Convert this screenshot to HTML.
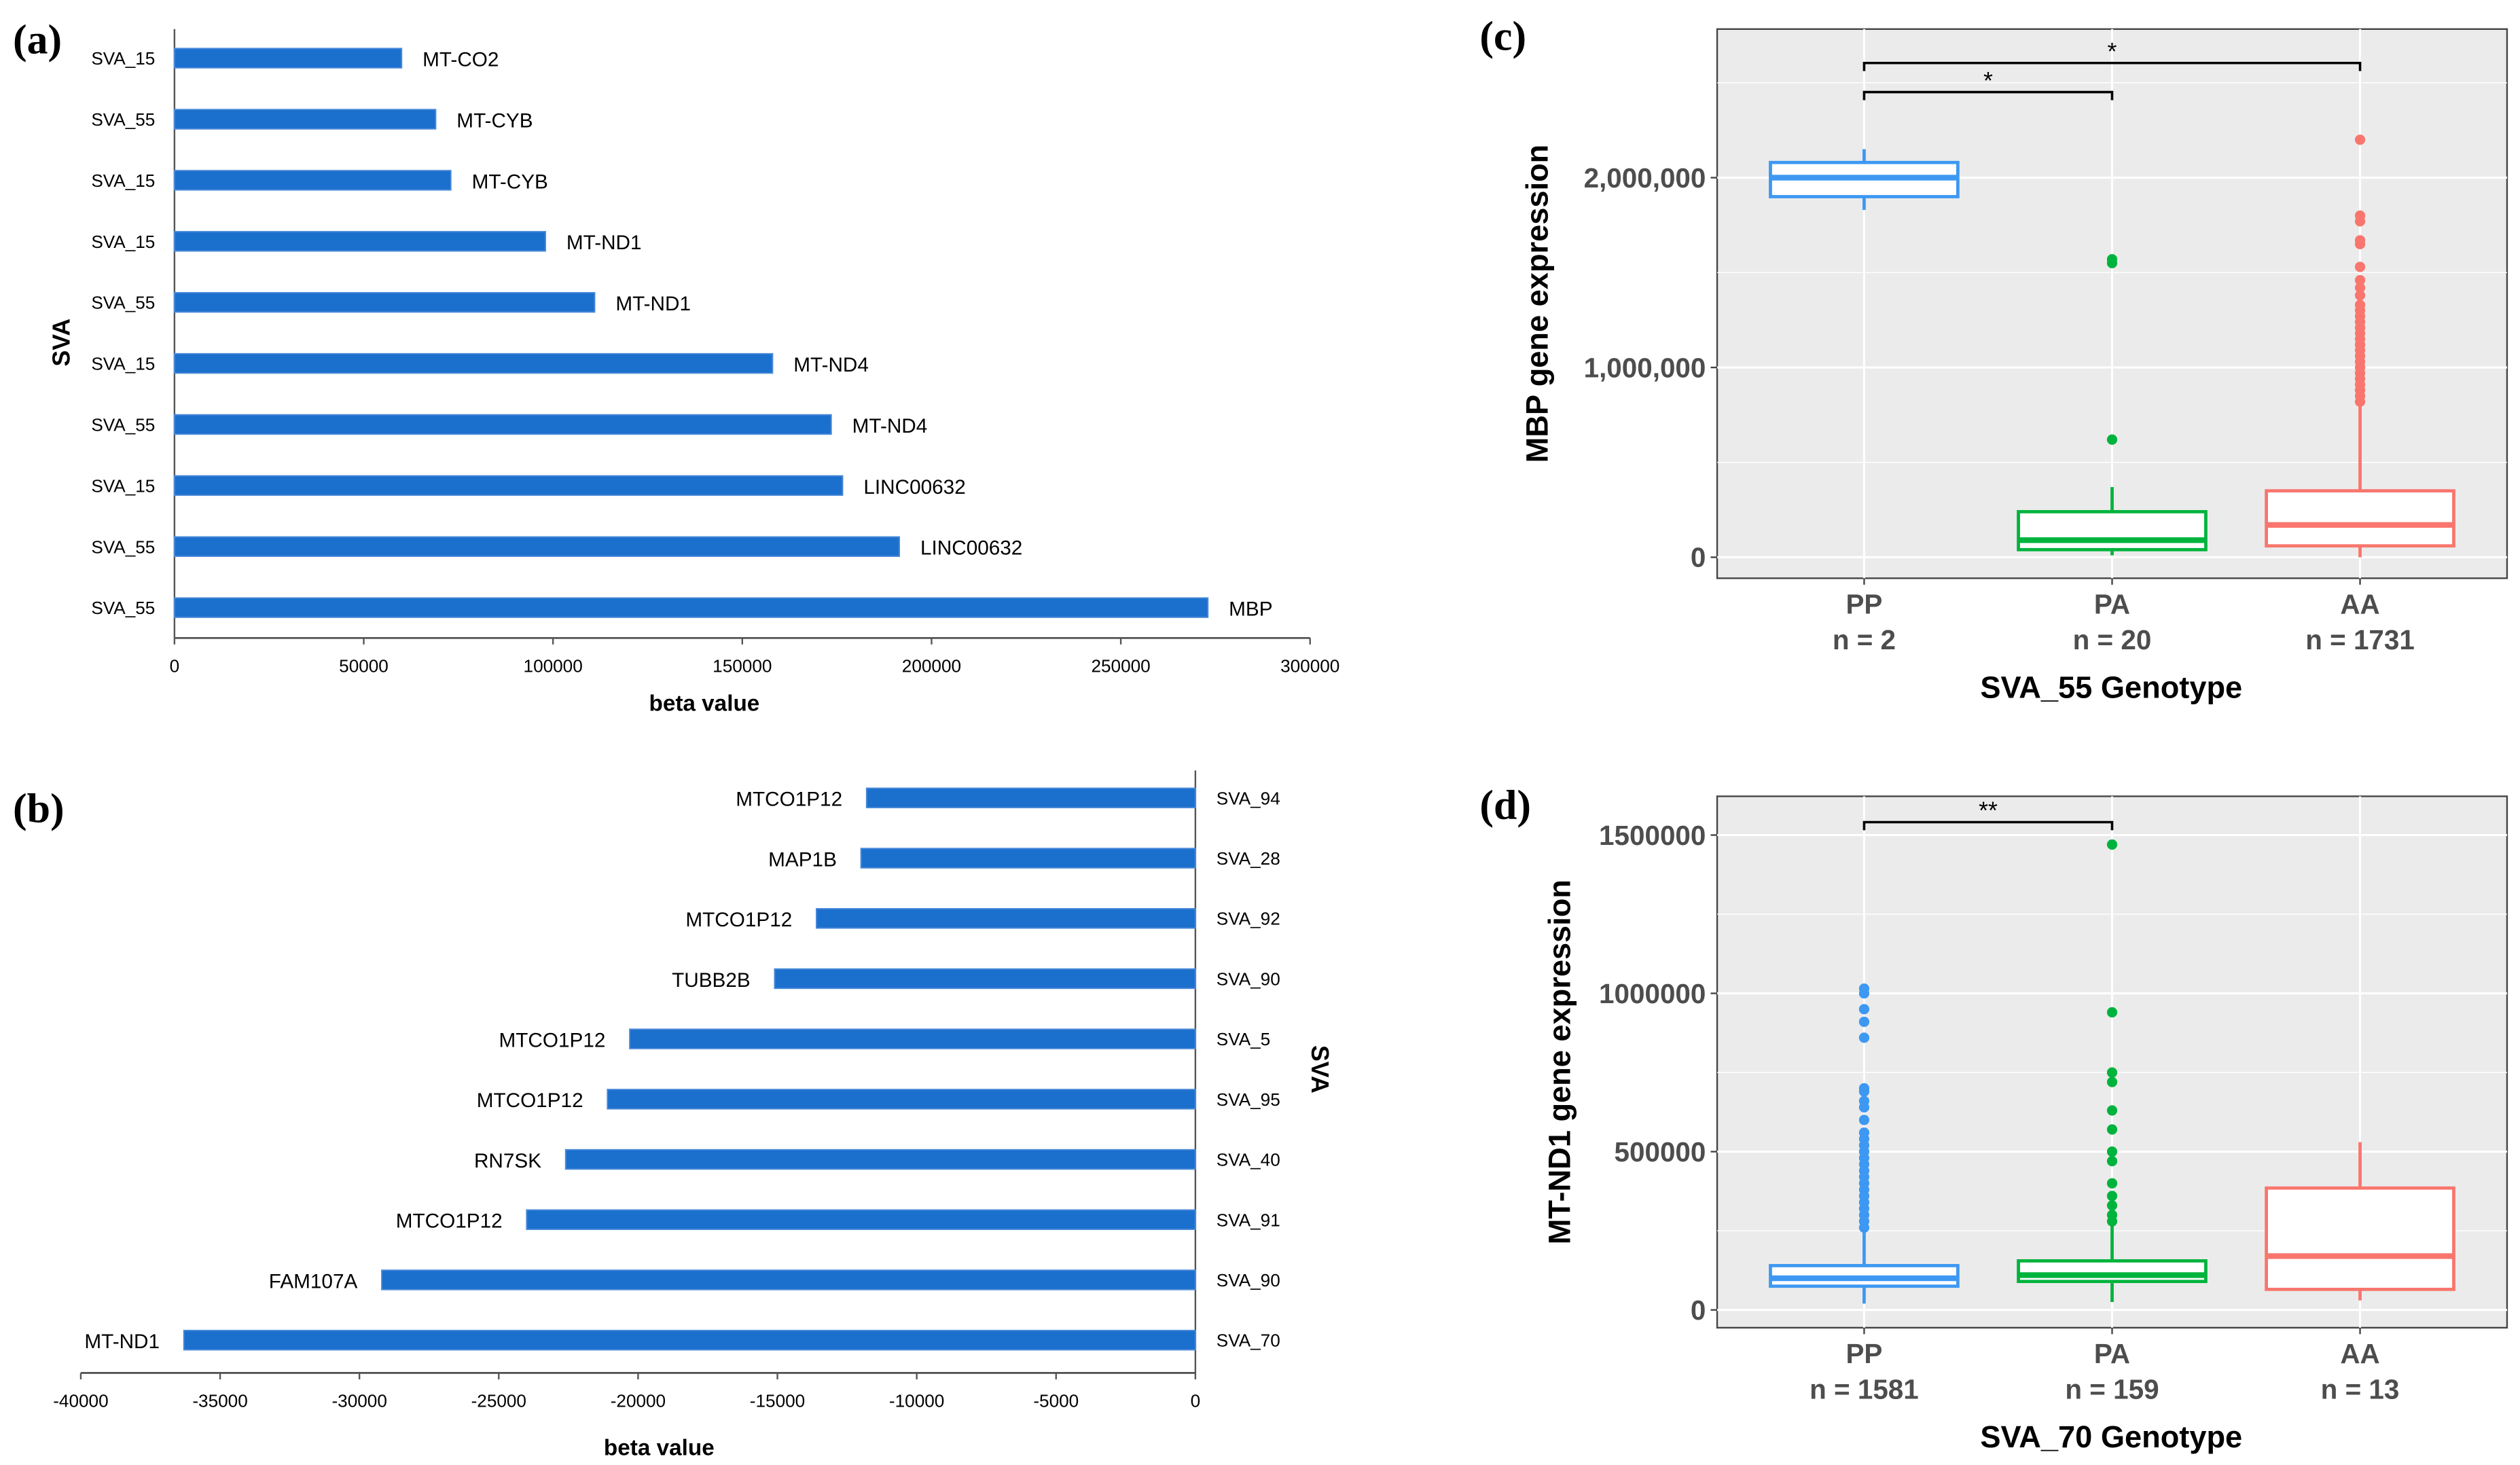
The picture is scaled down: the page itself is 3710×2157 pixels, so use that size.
<!DOCTYPE html>
<html><head><meta charset="utf-8"><style>
html,body{margin:0;padding:0;background:#fff;}
svg{display:block;}
text{font-family:"Liberation Sans",sans-serif;}
</style></head><body>
<svg id="fig" width="3710" height="2157" viewBox="0 0 1560 907" xmlns="http://www.w3.org/2000/svg"></svg>
<script>
// ---- Panel a data ----
const aSva = ["SVA_15","SVA_55","SVA_15","SVA_15","SVA_55","SVA_15","SVA_55","SVA_15","SVA_55","SVA_55"];
const aGenes = ["MT-CO2","MT-CYB","MT-CYB","MT-ND1","MT-ND1","MT-ND4","MT-ND4","LINC00632","LINC00632","MBP"];
const aValues = [60000,69000,73000,98000,111000,158000,173500,176500,191500,273000];
const aTicks = [0,50000,100000,150000,200000,250000,300000];
// ---- Panel b data ----
const bSva = ["SVA_94","SVA_28","SVA_92","SVA_90","SVA_5","SVA_95","SVA_40","SVA_91","SVA_90","SVA_70"];
const bGenes = ["MTCO1P12","MAP1B","MTCO1P12","TUBB2B","MTCO1P12","MTCO1P12","RN7SK","MTCO1P12","FAM107A","MT-ND1"];
const bValues = [-11800,-12000,-13600,-15100,-20300,-21100,-22600,-24000,-29200,-36300];
const bTicks = [-40000,-35000,-30000,-25000,-20000,-15000,-10000,-5000,0];
// ---- Panel c data ----
const cGroups = ["PP","PA","AA"];
const cN = ["n = 2","n = 20","n = 1731"];
const cStats = [ // [lowWhisker,q1,median,q3,highWhisker]
 [1830000,1900000,2000000,2080000,2150000],
 [10000,40000,90000,240000,370000],
 [0,60000,170000,350000,800000]];
const cOutPP = [];
const cOutPA = [620000,1550000,1570000];
const cOutAA = [820000,850000,880000,910000,940000,970000,1000000,1030000,1060000,1090000,1120000,1150000,1180000,1210000,1240000,1270000,1300000,1330000,1380000,1420000,1460000,1530000,1650000,1670000,1770000,1800000,2200000];
const cTicks = [0,1000000,2000000];
const cTickLabels = ["0","1,000,000","2,000,000"];
// ---- Panel d data ----
const dGroups = ["PP","PA","AA"];
const dN = ["n = 1581","n = 159","n = 13"];
const dStats = [
 [20000,75000,100000,140000,250000],
 [25000,90000,110000,155000,270000],
 [30000,65000,170000,385000,530000]];
const dOutPP = [260000,280000,300000,320000,340000,360000,380000,400000,420000,440000,460000,480000,500000,520000,540000,560000,600000,640000,660000,690000,700000,860000,910000,950000,1000000,1015000];
const dOutPA = [280000,300000,330000,360000,400000,470000,500000,570000,630000,720000,750000,940000,1470000];
const dOutAA = [];
const dTicks = [0,500000,1000000,1500000];
const dTickLabels = ["0","500000","1000000","1500000"];

const NS="http://www.w3.org/2000/svg";
const svg=document.getElementById('fig');
function mk(tag,attrs,parent,txt){const e=document.createElementNS(NS,tag);for(const k in attrs)e.setAttribute(k,attrs[k]);if(txt!==undefined)e.textContent=txt;(parent||svg).appendChild(e);return e;}

// panel letters
[["(a)",8,33],["(b)",8,509],["(c)",916,31],["(d)",916,507]].forEach(p=>{
 const t=mk('text',{x:p[1],y:p[2],'font-size':26,'font-weight':'bold',style:'font-family:"Liberation Serif",serif'},svg,p[0]);
 
 
});

// ===== Panel a =====
const ga=mk('g',{});


const axA=v=>108+v/300000*703;
const rowA=i=>36+i*37.8;
mk('line',{x1:108,y1:18,x2:108,y2:395,stroke:'#555','stroke-width':1},ga);
mk('line',{x1:108,y1:395,x2:811,y2:395,stroke:'#555','stroke-width':1.2},ga);
aTicks.forEach(t=>{mk('line',{x1:axA(t),y1:395,x2:axA(t),y2:399,stroke:'#555'},ga);
 const l=mk('text',{x:axA(t),y:416,'font-size':11,'text-anchor':'middle'},ga,String(t));
 });
aValues.forEach((v,i)=>{const y=rowA(i);
 const r=mk('rect',{x:108,y:y-6,width:axA(v)-108,height:12,fill:'#1b6fcd',stroke:'#4a8ad8','stroke-width':0.8},ga);
 
 const g=mk('text',{x:axA(v)+13,y:y+5,'font-size':12.5},ga,aGenes[i]);
 
 const s=mk('text',{x:96,y:y+4,'font-size':11,'text-anchor':'end'},ga,aSva[i]);
 });
const aT=mk('text',{x:436,y:440,'font-size':14,'font-weight':'bold','text-anchor':'middle'},ga,'beta value');

const aY=mk('text',{x:0,y:0,'font-size':15,'font-weight':'bold','text-anchor':'middle',transform:'translate(43,212) rotate(-90)'},ga,'SVA');


// ===== Panel b =====
const gb=mk('g',{});


const axB=v=>740+v/40000*690;
const rowB=i=>494+i*37.3;
mk('line',{x1:740,y1:477,x2:740,y2:850,stroke:'#555'},gb);
mk('line',{x1:50,y1:850,x2:740,y2:850,stroke:'#555','stroke-width':1.2},gb);
bTicks.forEach(t=>{mk('line',{x1:axB(t),y1:850,x2:axB(t),y2:854,stroke:'#555'},gb);
 const l=mk('text',{x:axB(t),y:871,'font-size':11,'text-anchor':'middle'},gb,String(t));
 });
bValues.forEach((v,i)=>{const y=rowB(i);
 const r=mk('rect',{x:axB(v),y:y-6,width:740-axB(v),height:12,fill:'#1b6fcd',stroke:'#4a8ad8','stroke-width':0.8},gb);
 
 const g=mk('text',{x:axB(v)-15,y:y+5,'font-size':12.5,'text-anchor':'end'},gb,bGenes[i]);
 
 const s=mk('text',{x:753,y:y+4,'font-size':11},gb,bSva[i]);
 });
const bT=mk('text',{x:408,y:901,'font-size':14,'font-weight':'bold','text-anchor':'middle'},gb,'beta value');

const bY=mk('text',{x:0,y:0,'font-size':15,'font-weight':'bold','text-anchor':'middle',transform:'translate(812,662) rotate(90)'},gb,'SVA');


// ===== Boxplots =====
const cols=['#3d98f2','#00b33c','#f8766d'];
function boxPanel(name,top,bot,y0,pxPer,ticks,tickLabels,groups,ns,stats,outs,brackets,title,titleX,xTitle,minor){
 const g=mk('g',{});
 
 
 const L=1063,R=1552;
 const Y=v=>y0-v*pxPer;
 const X=i=>1154+i*153.5;
 mk('rect',{x:L,y:top,width:R-L,height:bot-top,fill:'#ebebeb',stroke:'#444','stroke-width':1},g);
 minor.forEach(m=>{if(Y(m)>top&&Y(m)<bot)mk('line',{x1:L,x2:R,y1:Y(m),y2:Y(m),stroke:'#fff','stroke-width':0.6},g);});
 ticks.forEach((t,k)=>{mk('line',{x1:L,x2:R,y1:Y(t),y2:Y(t),stroke:'#fff','stroke-width':1.3},g);
  mk('line',{x1:L-4,x2:L,y1:Y(t),y2:Y(t),stroke:'#444'},g);
  const l=mk('text',{x:L-7,y:Y(t)+6,'font-size':17,'font-weight':'bold',fill:'#4d4d4d','text-anchor':'end'},g,tickLabels[k]);
  });
 groups.forEach((gr,i)=>{mk('line',{x1:X(i),x2:X(i),y1:top,y2:bot,stroke:'#fff','stroke-width':1.3},g);
  mk('line',{x1:X(i),x2:X(i),y1:bot,y2:bot+4,stroke:'#444'},g);
  const a=mk('text',{x:X(i),y:bot+22,'font-size':17,'font-weight':'bold',fill:'#4d4d4d','text-anchor':'middle'},g,gr);
  
  const b=mk('text',{x:X(i),y:bot+44,'font-size':17,'font-weight':'bold',fill:'#4d4d4d','text-anchor':'middle'},g,ns[i]);
  
  const s=stats[i],c=cols[i],hw=58;
  mk('line',{x1:X(i),x2:X(i),y1:Y(s[0]),y2:Y(s[4]),stroke:c,'stroke-width':2},g);
  const bx=mk('rect',{x:X(i)-hw,y:Y(s[3]),width:2*hw,height:Y(s[1])-Y(s[3]),fill:'#fff',stroke:c,'stroke-width':2},g);
  
  mk('line',{x1:X(i)-hw,x2:X(i)+hw,y1:Y(s[2]),y2:Y(s[2]),stroke:c,'stroke-width':3.5},g);
  outs[i].forEach(o=>{const p=mk('circle',{cx:X(i),cy:Y(o),r:3.2,fill:c},g);
   });
 });
 brackets.forEach(b=>{const x1=X(b[0]),x2=X(b[1]),y=b[2];
  mk('path',{d:`M${x1},${y+5}V${y}H${x2}V${y+5}`,fill:'none',stroke:'#000','stroke-width':1.5},g);
  const s=mk('text',{x:(x1+x2)/2,y:y-2,'font-size':15,'text-anchor':'middle'},g,b[3]);
  });
 const yt=mk('text',{x:0,y:0,'font-size':19,'font-weight':'bold','text-anchor':'middle',transform:`translate(${titleX},${(top+bot)/2}) rotate(-90)`},g,title);
 
 const xt=mk('text',{x:1307,y:bot+74,'font-size':19,'font-weight':'bold','text-anchor':'middle'},g,xTitle);
 
}
boxPanel('panel-c-boxplot',18,358,345,117.5/1e6,cTicks,cTickLabels,cGroups,cN,cStats,[cOutPP,cOutPA,cOutAA],
 [[0,1,57,'*'],[0,2,39,'*']],'MBP gene expression',958,'SVA_55 Genotype',[500000,1500000,2500000]);
boxPanel('panel-d-boxplot',493,822,811,98/500000,dTicks,dTickLabels,dGroups,dN,dStats,[dOutPP,dOutPA,dOutAA],
 [[0,1,509,'**']],'MT-ND1 gene expression',972,'SVA_70 Genotype',[250000,750000,1250000]);
</script>
</body></html>
